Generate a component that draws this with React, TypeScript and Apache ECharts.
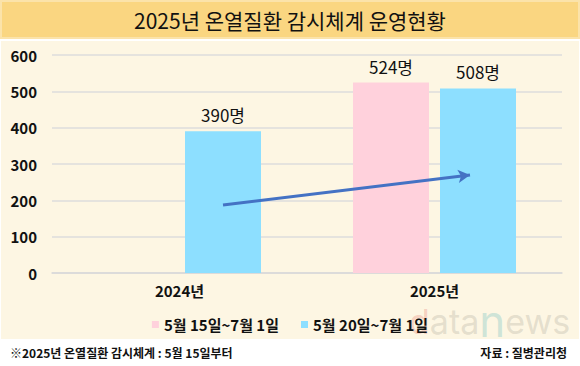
import React, { useEffect, useRef } from "react";
import * as echarts from "echarts";

const categories = ["2024년", "2025년"];
const seriesNames = ["5월 15일~7월 1일", "5월 20일~7월 1일"];
const pinkValues: (number | null)[] = [null, 524];
const blueValues: (number | null)[] = [390, 508];
const yTicks = { min: 0, max: 600, interval: 100 };
const arrowStart: [string, number] = ["2024년", 187];
const arrowEnd: [string, number] = ["2025년", 270];

const FONT = "'Noto Sans CJK KR', 'Noto Sans', sans-serif";
const BAR_W = 76;
const BAR_GAP_PX = 11;

export default function App() {
  const ref = useRef<HTMLDivElement>(null);
  useEffect(() => {
    if (!ref.current) return;
    const chart = echarts.init(ref.current, undefined, { renderer: "svg" });
    const wm = { fontFamily: "Inter, sans-serif", lineHeight: 24 };
    const option: any = {
      animation: false,
      backgroundColor: "#ffffff",
      graphic: [
        {
          type: "rect",
          z: -10,
          shape: { x: 1, y: 1, width: 578, height: 37 },
          style: { fill: "#FAD681", stroke: "#FBE3AA", lineWidth: 2 },
        },
        {
          type: "rect",
          z: -10,
          shape: { x: 1, y: 41, width: 578, height: 298 },
          style: { fill: "#FDF6E3" },
        },
        {
          type: "text",
          x: 290,
          y: 20,
          style: {
            text: "2025년 온열질환 감시체계 운영현황",
            fontSize: 21,
            fontFamily: FONT,
            fill: "#111",
            align: "center",
            verticalAlign: "middle",
          },
        },
        {
          type: "text",
          x: 10,
          y: 352,
          style: {
            text: "※2025년 온열질환 감시체계 : 5월 15일부터",
            fontSize: 12,
            fontWeight: "bold",
            fontFamily: FONT,
            fill: "#111",
            verticalAlign: "middle",
          },
        },
        {
          type: "text",
          x: 567,
          y: 352,
          style: {
            text: "자료 : 질병관리청",
            fontSize: 12,
            fontWeight: "bold",
            fontFamily: FONT,
            fill: "#111",
            align: "right",
            verticalAlign: "middle",
          },
        },
        {
          type: "text",
          x: 409,
          y: 333,
          z: -5,
          style: {
            text: "{d|d}{a|ata}{n|n}{a|ews}",
            verticalAlign: "bottom",
            rich: {
              d: { ...wm, fontSize: 34, fill: "rgba(238,165,150,0.45)" },
              a: { ...wm, fontSize: 34, fill: "rgba(190,185,170,0.4)" },
              n: { ...wm, fontSize: 44, fill: "rgba(150,205,200,0.45)" },
            },
          },
        },
      ],
      grid: { left: 52, right: 18, top: 55, bottom: 93, containLabel: false },
      legend: {
        top: 312,
        left: "center",
        icon: "rect",
        itemWidth: 7,
        itemHeight: 7,
        itemGap: 22,
        textStyle: { fontSize: 15, fontFamily: FONT, color: "#111", fontWeight: "bold" },
        data: seriesNames,
      },
      xAxis: {
        type: "category",
        data: categories,
        axisLine: { lineStyle: { color: "#D9D9D9", width: 1.5 } },
        axisTick: { show: false },
        axisLabel: { margin: 10, fontSize: 15, fontFamily: FONT, color: "#111", fontWeight: "bold" },
      },
      yAxis: {
        type: "value",
        min: yTicks.min,
        max: yTicks.max,
        interval: yTicks.interval,
        axisLine: { show: false },
        axisTick: { show: false },
        splitLine: { lineStyle: { color: "#DCDCDC", width: 1.5 } },
        axisLabel: { margin: 15, fontSize: 15, fontFamily: FONT, color: "#111", fontWeight: "bold" },
      },
      series: [
        {
          name: seriesNames[0],
          type: "bar",
          data: pinkValues,
          barWidth: BAR_W,
          barGap: (BAR_GAP_PX / BAR_W) * 100 + "%",
          itemStyle: { color: "#FFD1DC" },
          label: {
            show: true,
            position: "top",
            distance: 8,
            formatter: "{c}명",
            fontSize: 17,
            fontFamily: FONT,
            color: "#111",
          },
        },
        {
          name: seriesNames[1],
          type: "bar",
          data: blueValues,
          barWidth: BAR_W,
          barGap: (BAR_GAP_PX / BAR_W) * 100 + "%",
          itemStyle: { color: "#8DDFFF" },
          label: {
            show: true,
            position: "top",
            distance: 8,
            formatter: "{c}명",
            fontSize: 17,
            fontFamily: FONT,
            color: "#111",
          },
        },
      ],
    };
    chart.setOption(option);
    const off = (BAR_W + BAR_GAP_PX) / 2;
    const p1 = chart.convertToPixel({ gridIndex: 0 }, arrowStart as any) as number[];
    const p2 = chart.convertToPixel({ gridIndex: 0 }, arrowEnd as any) as number[];
    if (p1 && p2) {
      chart.setOption({
        series: [
          {},
          {
            markLine: {
              silent: true,
              symbol: ["none", "arrow"],
              symbolSize: [10, 12],
              label: { show: false },
              lineStyle: { color: "#4472C4", width: 3, type: "solid", opacity: 1 },
              data: [[{ x: p1[0] + off, y: p1[1] }, { x: p2[0] + off - 8, y: p2[1] }]],
            },
          },
        ],
      });
    }
    return () => chart.dispose();
  }, []);
  return (
    <div
      ref={ref}
      style={{ position: "absolute", left: 0, top: 0, width: 580, height: 366 }}
    />
  );
}
